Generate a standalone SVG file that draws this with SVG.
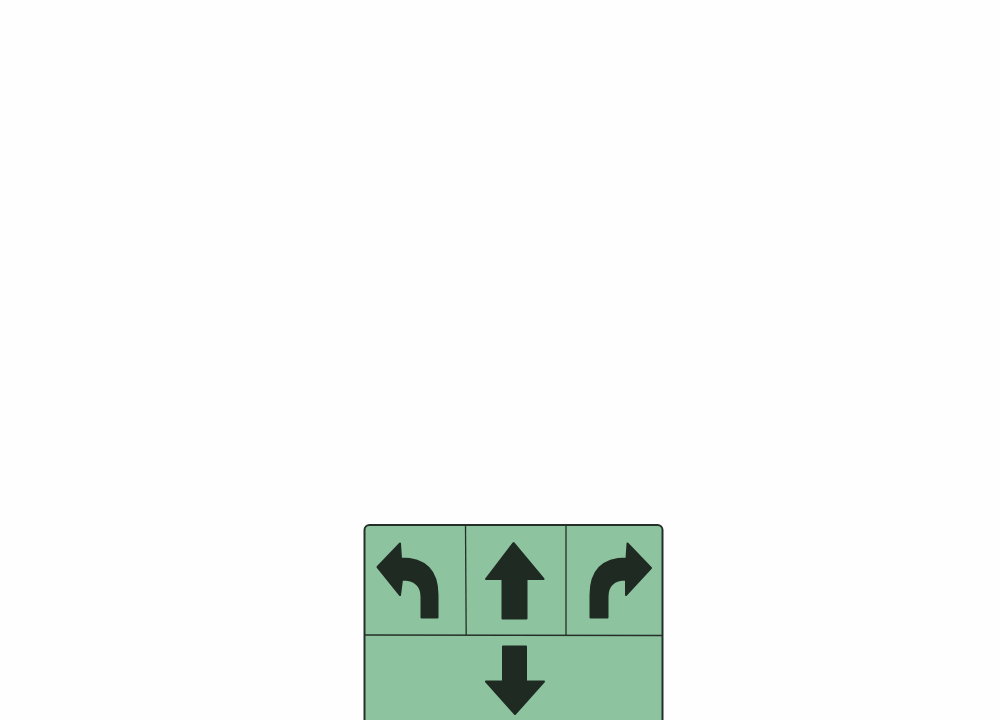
<svg xmlns="http://www.w3.org/2000/svg" width="1000" height="720" viewBox="0 0 1000 720">
<style>
.panel{fill:#8dc49f;stroke:#243027;stroke-width:2}
.div{stroke:#243027;stroke-width:1.3;fill:none}
.arrow{fill:#1f2a22;stroke:#1f2a22;stroke-width:2;stroke-linejoin:round}
</style>
<rect width="1000" height="720" fill="#fefefe"/>
<g id="sign">
<rect class="panel" x="364.5" y="525" width="298" height="220" rx="5"/>
<g id="dividers">
<line class="div" x1="465.5" y1="525" x2="466.2" y2="635"/>
<line class="div" x1="566" y1="525" x2="566" y2="635"/>
<line class="div" x1="364.5" y1="635" x2="662.5" y2="635.5"/>
</g>
</g>
<g id="left-turn">
<path class="arrow" d="M377.5 567 L400 543.5 L401 558.5 Q437.5 558.5 437.5 595 L437.5 617.5 L421.5 617.5 L421.5 597 Q421.5 579.5 402 579.5 L400 595 Z"/>
</g>
<g id="straight">
<path class="arrow" d="M513.5 543 L543.5 579 L526.5 579 L526.5 618.5 L502.5 618.5 L502.5 579 L486 579 Z"/>
</g>
<g id="right-turn">
<path class="arrow" d="M651 568 L627.5 543.5 L626.5 558.5 Q590.5 558.5 590.5 595 L590.5 617.5 L607.5 617.5 L607.5 597 Q607.5 579.5 626 579.5 L626 595 Z"/>
</g>
<g id="down">
<path class="arrow" d="M503 646.5 L526 646.5 L526 681.5 L544 681.5 L515 714 L486 681.5 L503 681.5 Z"/>
</g>
</svg>
